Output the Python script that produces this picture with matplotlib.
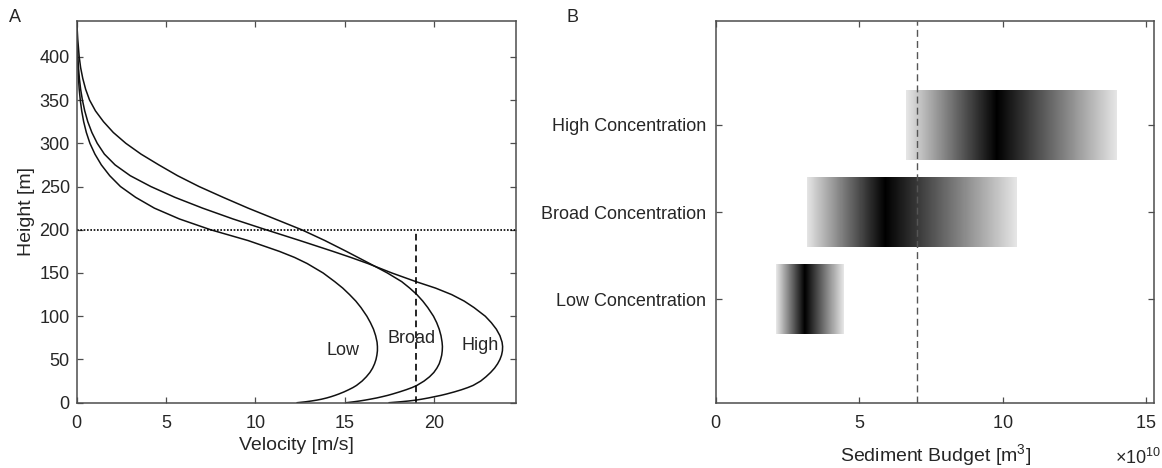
import numpy as np
import matplotlib
matplotlib.use("Agg")
import matplotlib.pyplot as plt

plt.rcParams['font.family'] = ['Liberation Sans', 'DejaVu Sans']
plt.rcParams['mathtext.fontset'] = 'custom'
plt.rcParams['mathtext.rm'] = 'Liberation Sans'

# ---------------- Panel A: velocity profiles ----------------
heights = [0, 1, 2, 3, 4, 5.5, 7, 8.5, 10, 12.5, 15, 17.5, 20, 25, 30, 35, 40,
           45, 50, 55, 60, 65, 70, 77.5, 85, 92.5, 100, 110, 117.5, 125, 132.5,
           140, 150, 161, 168, 175, 187.5, 200, 212.5, 225, 237.5, 250, 262.5,
           275, 287.5, 300, 312.5, 325, 337.5, 350, 362.5, 375, 387.5, 400,
           420, 442]

vel_low = [12.35, 12.8, 13.15, 13.45, 13.7, 14.0, 14.25, 14.47, 14.67, 14.97,
           15.23, 15.47, 15.67, 15.98, 16.22, 16.42, 16.57, 16.68, 16.76, 16.81,
           16.84, 16.84, 16.82, 16.74, 16.62, 16.45, 16.25, 15.92, 15.63, 15.28,
           14.9, 14.45, 13.8, 12.9, 12.2, 11.35, 9.6, 7.5, 5.75, 4.35, 3.3, 2.45,
           1.85, 1.38, 1.02, 0.74, 0.54, 0.39, 0.28, 0.2, 0.14, 0.1, 0.07, 0.045,
           0.02, 0.0]

vel_broad = [15.1, 15.5, 15.85, 16.15, 16.42, 16.8, 17.12, 17.42, 17.68, 18.08,
             18.45, 18.78, 19.05, 19.45, 19.76, 20.0, 20.17, 20.3, 20.38, 20.44,
             20.47, 20.48, 20.46, 20.4, 20.3, 20.16, 19.98, 19.66, 19.38, 19.05,
             18.65, 18.2, 17.4, 16.4, 15.75, 15.1, 13.9, 12.6, 11.1, 9.6, 8.2,
             6.85, 5.65, 4.6, 3.6, 2.75, 2.05, 1.5, 1.05, 0.72, 0.5, 0.34, 0.22,
             0.14, 0.06, 0.0]

vel_high = [17.5, 18.1, 18.6, 19.0, 19.3, 19.7, 20.05, 20.4, 20.7, 21.15, 21.55,
            21.9, 22.2, 22.62, 22.92, 23.18, 23.4, 23.57, 23.7, 23.79, 23.84,
            23.85, 23.82, 23.7, 23.5, 23.22, 22.88, 22.25, 21.7, 21.0, 20.1,
            19.0, 17.65, 16.3, 15.35, 14.35, 12.5, 10.6, 8.75, 7.05, 5.5, 4.15,
            3.0, 2.15, 1.55, 1.15, 0.85, 0.62, 0.45, 0.32, 0.22, 0.15, 0.1, 0.06,
            0.02, 0.0]

profile_names = ["Low", "Broad", "High"]
label_pos = [(14.9, 60), (18.75, 74), (22.57, 66)]

threshold_velocity = 19.0
reference_height = 200.0

# ---------------- Panel B: sediment budget ranges ----------------
scenarios = ["Low Concentration", "Broad Concentration", "High Concentration"]
budget_min = [2.11e10, 3.17e10, 6.64e10]
budget_mode = [3.1e10, 5.9e10, 9.8e10]
budget_max = [4.45e10, 10.5e10, 13.98e10]
budget_reference = 7.0e10
budget_exponent = 10

TEXT = '#262626'
SPINE = '#4d4d4d'

fig = plt.figure(figsize=(11.62, 4.68), dpi=100)
axA = fig.add_axes([76.7 / 1162, 65.3 / 468, (516 - 76.7) / 1162, (402.7 - 20.5) / 468])
axB = fig.add_axes([716 / 1162, 65.3 / 468, (1154.3 - 716) / 1162, (402.7 - 20.5) / 468])

for ax in (axA, axB):
    for s in ax.spines.values():
        s.set_color(SPINE)
        s.set_linewidth(1.1)
    ax.tick_params(direction='in', top=True, right=True, length=4, width=0.9,
                   color=SPINE, labelcolor=TEXT, labelsize=13)

# Panel A
for v in (vel_low, vel_broad, vel_high):
    axA.plot(v, heights, color='#111111', lw=1.1, solid_joinstyle='round')
for name, (x, y) in zip(profile_names, label_pos):
    axA.text(x, y, name, ha='center', va='center', fontsize=13, color=TEXT)
axA.axhline(reference_height, color='black', lw=1.2, ls=(0, (1, 1)))
axA.plot([threshold_velocity, threshold_velocity], [0, reference_height],
         color='black', lw=1.2, ls=(0, (4, 2.5)))
axA.set_xlim(0, 24.6)
axA.set_ylim(0, 442)
axA.set_xticks([0, 5, 10, 15, 20])
axA.set_yticks(np.arange(0, 401, 50))
axA.tick_params(axis='x', pad=9)
axA.tick_params(axis='y', pad=5)
axA.set_xlabel("Velocity [m/s]", fontsize=14, color=TEXT, labelpad=3.5)
axA.set_ylabel("Height [m]", fontsize=14, color=TEXT, labelpad=3)

# Panel B: each range drawn as a horizontal band shaded dark at its mode
ypos = [1, 2, 3]
for y, lo, md, hi in zip(ypos, budget_min, budget_mode, budget_max):
    edges = np.linspace(lo, hi, 401)
    xc = 0.5 * (edges[:-1] + edges[1:])
    t = np.where(xc < md, (md - xc) / (md - lo), (xc - md) / (hi - md))
    shade = 0.9 * t
    axB.pcolormesh(edges, [y - 0.4, y + 0.4], shade[np.newaxis, :], cmap='gray',
                   vmin=0, vmax=1, shading='flat', zorder=2,
                   edgecolors='none', antialiased=False)
axB.axvline(budget_reference, color='#555555', lw=1.0, ls=(0, (5, 3)), zorder=3)
axB.set_xlim(0, 15.29e10)
axB.set_ylim(-0.19, 4.2)
axB.set_xticks([0, 5e10, 10e10, 15e10])
axB.set_yticks(ypos)
axB.set_yticklabels(scenarios)
axB.ticklabel_format(axis='x', style='sci', scilimits=(budget_exponent, budget_exponent),
                     useMathText=True)
axB.xaxis.get_offset_text().set_visible(False)
axB.text(1.015, -0.145, r'$\times\mathregular{10^{%d}}$' % budget_exponent,
         transform=axB.transAxes, ha='right', va='center', fontsize=13, color=TEXT)
axB.tick_params(axis='x', pad=9)
axB.tick_params(axis='y', pad=7)
axB.set_xlabel("Sediment Budget [m$^3$]", fontsize=14, color=TEXT, labelpad=7)

fig.text(15 / 1162, 1 - 17 / 468, "A", fontsize=13, color=TEXT, ha='center', va='center')
fig.text(572 / 1162, 1 - 17 / 468, "B", fontsize=13, color=TEXT, ha='center', va='center')

fig.savefig("out.png", dpi=100)
